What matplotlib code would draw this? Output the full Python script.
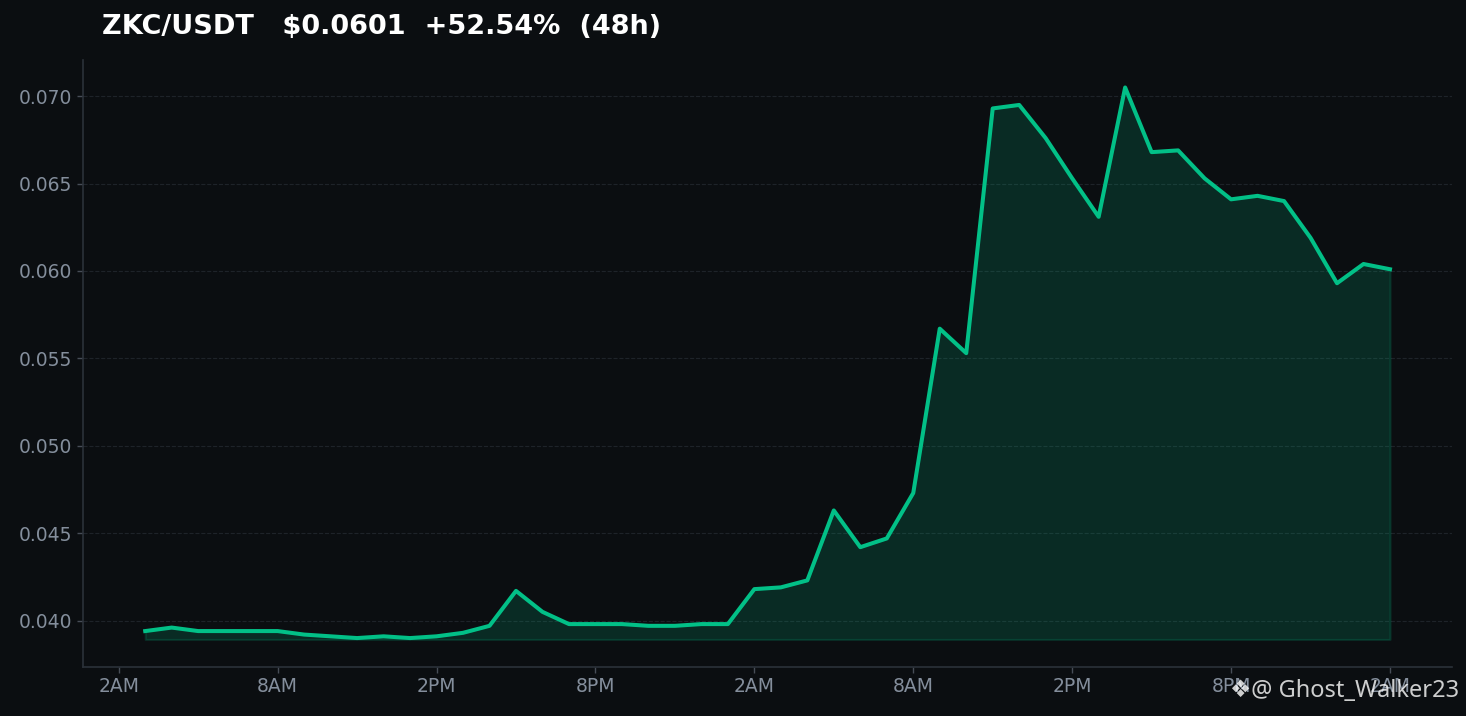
import numpy as np
import matplotlib.pyplot as plt

# hourly closes, first candle 3AM day 1 (hour 1) to 2AM day 3 (hour 48)
hours = list(range(1, 49))
prices = [
    0.0394, 0.0396, 0.0394, 0.0394, 0.0394, 0.0394, 0.0392, 0.0391,
    0.0390, 0.0391, 0.0390, 0.0391, 0.0393, 0.0397, 0.0417, 0.0405,
    0.0398, 0.0398, 0.0398, 0.0397, 0.0397, 0.0398, 0.0398, 0.0418,
    0.0419, 0.0423, 0.0463, 0.0442, 0.0447, 0.0473, 0.0567, 0.0553,
    0.0693, 0.0695, 0.0676, 0.0653, 0.0631, 0.0705, 0.0668, 0.0669,
    0.0653, 0.0641, 0.0643, 0.0640, 0.0619, 0.0593, 0.0604, 0.0601,
]
tick_hours = [0, 6, 12, 18, 24, 30, 36, 42, 48]
tick_labels = ["2AM", "8AM", "2PM", "8PM", "2AM", "8AM", "2PM", "8PM", "2AM"]

BG = "#0b0e11"
GREEN = "#02c087"
GREY = "#848e9c"

title = f"ZKC/USDT   ${prices[-1]:.4f}  +52.54%  (48h)"

fig = plt.figure(figsize=(14.66, 7.16), dpi=100, facecolor=BG)
ax = fig.add_axes([0.0566, 0.0684, 0.934, 0.848])
ax.set_facecolor(BG)

base = min(prices) * 0.998
ax.fill_between(hours, prices, base, color=GREEN, alpha=0.17, linewidth=1.5,
                edgecolor=GREEN)
ax.plot(hours, prices, color=GREEN, linewidth=2.9)
ax.margins(x=0.05, y=0.05)

ax.set_xticks(tick_hours)
ax.set_xticklabels(tick_labels)
ax.set_yticks([0.040, 0.045, 0.050, 0.055, 0.060, 0.065, 0.070])
ax.yaxis.set_major_formatter(plt.FormatStrFormatter("%.3f"))
ax.tick_params(colors=GREY, labelsize=13.5, length=4, width=1)
for t in ax.get_xticklabels() + ax.get_yticklabels():
    t.set_color(GREY)
ax.tick_params(axis="both", color="#474d57")

for side in ["top", "right"]:
    ax.spines[side].set_visible(False)
for side in ["left", "bottom"]:
    ax.spines[side].set_color("#2b3139")
    ax.spines[side].set_linewidth(1.2)

ax.grid(axis="y", color="#1e2329", linestyle="--", linewidth=0.8)
ax.set_axisbelow(True)

fig.text(0.0696, 0.962, title, color="white", fontsize=19.5, fontweight="bold",
         va="center", ha="left")

# watermark
fig.text(0.995, 0.035, "❖@ Ghost_Walker23", color="white", alpha=0.8,
         fontsize=17, ha="right", va="center",
         family=["Noto Sans", "DejaVu Sans"])

fig.savefig("out.png", dpi=100, facecolor=BG)
